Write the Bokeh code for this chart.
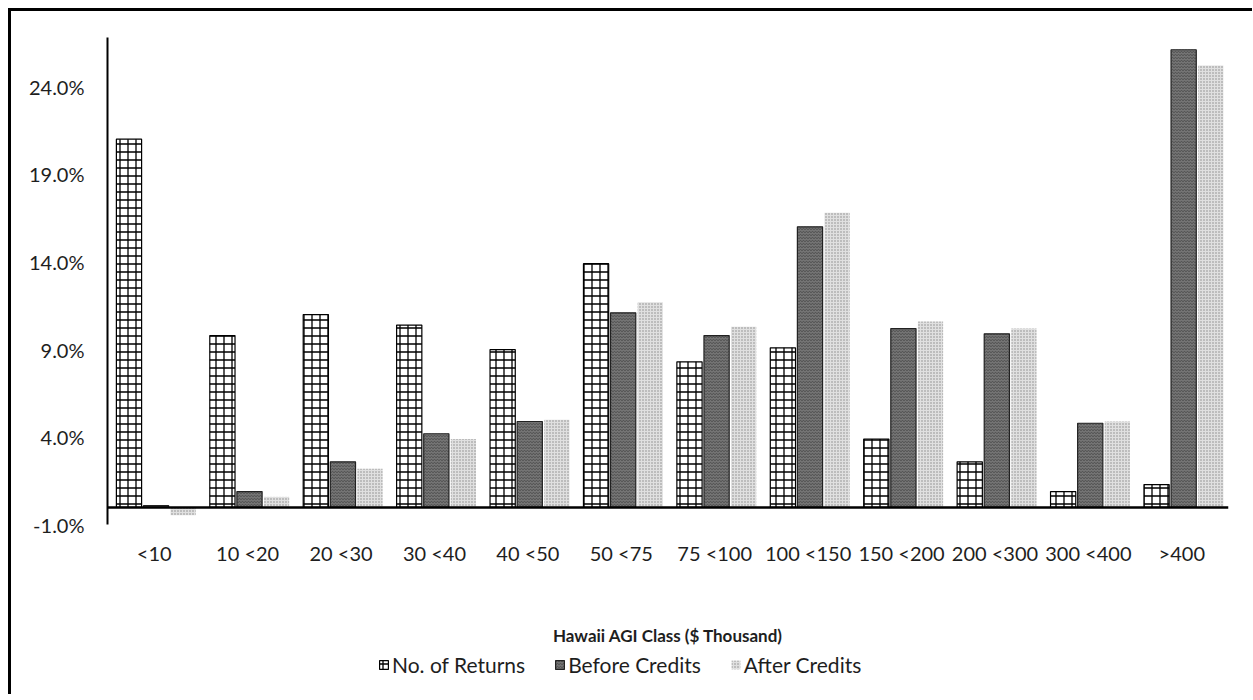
from bokeh.plotting import figure
from bokeh.models import FactorRange, FixedTicker, PrintfTickFormatter, Span, Legend, LegendItem, ColumnDataSource
from bokeh.transform import dodge
from bokeh.embed import file_html
from bokeh.resources import INLINE

categories = ["<10", "10 <20", "20 <30", "30 <40", "40 <50", "50 <75", "75 <100",
              "100 <150", "150 <200", "200 <300", "300 <400", ">400"]
no_of_returns = [21.0, 9.8, 11.0, 10.4, 9.0, 13.9, 8.3, 9.1, 3.9, 2.6, 0.9, 1.3]
before_credits = [0.1, 0.9, 2.6, 4.2, 4.9, 11.1, 9.8, 16.0, 10.2, 9.9, 4.8, 26.1]
after_credits = [-0.45, 0.6, 2.2, 3.9, 5.0, 11.7, 10.3, 16.8, 10.6, 10.2, 4.9, 25.2]
y_ticks = [-1, 4, 9, 14, 19, 24]

FONT = "Lato"
TXT = "#1e1e1e"

src = ColumnDataSource(dict(cat=categories, nr=no_of_returns, bc=before_credits, ac=after_credits))

# the frame extends below the value axis so that the legend fits inside it
p = figure(x_range=FactorRange(*categories), y_range=(-10.5, 26.8),
           frame_width=1121, frame_height=654, output_backend="svg", toolbar_location=None,
           min_border_left=96, min_border_top=26, min_border_right=24, min_border_bottom=3)
p.styles = {"border-left": "3px solid black", "border-top": "3px solid black",
            "margin-left": "8px", "margin-top": "8px"}
p.outline_line_color = None
p.xgrid.grid_line_color = None
p.ygrid.grid_line_color = None
p.background_fill_color = "white"
p.border_fill_color = "white"

bw = 0.27
r1 = p.vbar(x=dodge("cat", -0.27, range=p.x_range), top="nr", bottom=0, width=bw, source=src,
            fill_color="white", line_color="black", line_width=1.2,
            hatch_pattern="+", hatch_color="black", hatch_scale=8, hatch_weight=1.3)
r2 = p.vbar(x=dodge("cat", 0.02, range=p.x_range), top="bc", bottom=0, width=bw, source=src,
            fill_color="#747474", line_color="#222222", line_width=1.2,
            hatch_pattern="v", hatch_color="#404040", hatch_scale=3, hatch_weight=0.8)
r3 = p.vbar(x=dodge("cat", 0.31, range=p.x_range), top="ac", bottom=0, width=bw, source=src,
            fill_color="#e0e0e0", line_color=None,
            hatch_pattern=".", hatch_color="#8a8a8a", hatch_scale=3, hatch_weight=1)

p.add_layout(Span(location=0, dimension="width", line_color="black", line_width=2.5))

p.xaxis.fixed_location = -1
p.xaxis.axis_line_color = None
p.xaxis.major_tick_line_color = None
p.xaxis.minor_tick_line_color = None
p.xaxis.major_tick_out = 0
p.xaxis.major_label_standoff = 16
p.xaxis.major_label_text_font = FONT
p.xaxis.major_label_text_font_size = "20px"
p.xaxis.major_label_text_color = TXT
p.xaxis.axis_label = "Hawaii AGI Class ($ Thousand)"
p.xaxis.axis_label_text_font = FONT
p.xaxis.axis_label_text_font_style = "bold"
p.xaxis.axis_label_text_font_size = "17px"
p.xaxis.axis_label_text_color = TXT
p.xaxis.axis_label_standoff = 57

p.yaxis.bounds = (-1, 26.8)
p.yaxis.ticker = FixedTicker(ticks=y_ticks)
p.yaxis.formatter = PrintfTickFormatter(format="%.1f%%")
p.yaxis.axis_line_color = "black"
p.yaxis.axis_line_width = 2
p.yaxis.major_tick_line_color = None
p.yaxis.minor_tick_line_color = None
p.yaxis.major_label_standoff = 17
p.yaxis.major_label_text_font = FONT
p.yaxis.major_label_text_font_size = "20px"
p.yaxis.major_label_text_color = TXT

legend = Legend(items=[LegendItem(label="No. of Returns", renderers=[r1]),
                       LegendItem(label="Before Credits", renderers=[r2]),
                       LegendItem(label="After Credits", renderers=[r3])],
                orientation="horizontal", location=(271, 14),
                label_text_font=FONT, label_text_font_size="21px", label_text_color=TXT,
                glyph_width=11, glyph_height=11, spacing=29, padding=2, margin=0,
                border_line_color=None, background_fill_alpha=0, label_standoff=3)
p.add_layout(legend, "center")

open("out.html", "w").write(file_html(p, INLINE))
